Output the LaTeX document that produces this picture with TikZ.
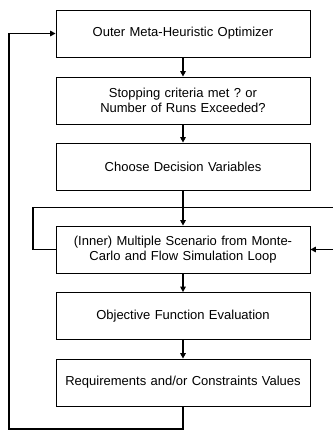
\documentclass[tikz,border=0pt]{standalone}
\usepackage{fontspec}
\setmainfont{Liberation Sans}
\frenchspacing
\usetikzlibrary{arrows.meta}
\begin{document}
\begin{tikzpicture}[x=1pt,y=-1pt,
  box/.style={draw, line width=0.8pt, minimum width=254pt, minimum height=47pt, inner sep=2pt,
    align=center, font=\fontsize{13}{15.5}\selectfont, text width=248pt},
  conn/.style={line width=1.6pt, -{Triangle[length=5.5pt,width=5.5pt]}},
  plain/.style={line width=1.6pt}]
\useasboundingbox (0,0) rectangle (333,431);
\node[box] (b1) at (183,33.5) {Outer Meta-Heuristic Optimizer};
\node[box] (b2) at (183,100.5) {Stopping criteria met ? or\\Number of Runs Exceeded?};
\node[box] (b3) at (183,166.5) {Choose Decision Variables};
\node[box] (b4) at (183,249.5) {(Inner) Multiple Scenario from Monte-\\Carlo and Flow Simulation Loop};
\node[box] (b5) at (183,316) {Objective Function Evaluation};
\node[box] (b6) at (183,382.5) {Requirements and/or Constraints Values};
\coordinate (oL) at (9,429);
\coordinate (iT) at (333,207.5);
\coordinate (iR) at (333,249.5);
\draw[conn] (b1) -- (b2);
\draw[conn] (b2) -- (b3);
\draw[conn] (b3) -- (b4);
\draw[conn] (b4) -- (b5);
\draw[conn] (b5) -- (b6);
\draw[conn] (b6.south) |- (oL) |- (b1.west);
\draw[plain] (b4.west) -| (33,207.5) -- (iT);
\draw[conn] (iR) -- (b4.east);
\end{tikzpicture}
\end{document}
